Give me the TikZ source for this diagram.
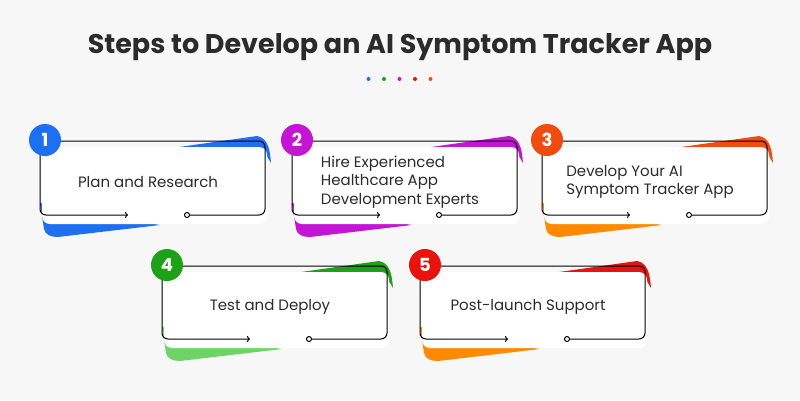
\documentclass[tikz,border=0pt]{standalone}
\usepackage{fontspec}
\setmainfont{Poppins}
\usetikzlibrary{positioning, arrows.meta}
\definecolor{bg}{HTML}{F7F7F7}
\definecolor{ink}{HTML}{2B2B2B}
\definecolor{cBlue}{HTML}{1E6FF1}
\definecolor{cMag}{HTML}{C414D4}
\definecolor{cOrRed}{HTML}{F24B0F}
\definecolor{cOrange}{HTML}{FF8A00}
\definecolor{cGreen}{HTML}{1DA118}
\definecolor{cLGreen}{HTML}{6FD468}
\definecolor{cRed}{HTML}{E8130C}
\tikzset{
  num/.style={circle, minimum size=32pt, inner sep=0pt, font=\bfseries\fontsize{18}{18}\selectfont, text=white},
  steptext/.style={font=\fontsize{15}{18.5}\selectfont, text=ink, align=left},
  outline/.style={line width=1pt, rounded corners=6pt},
  dot/.style={circle, minimum size=4pt, inner sep=0pt}
}
% card: name, left x, top y, height, top colour, bottom colour, number, text
\newcommand{\stepcard}[8]{
  \fill[#5] (#2+118,#3+9) -- (#2+217,#3-5) to[out=-10,in=95] (#2+231,#3+22) -- (#2+225,#3+12) -- cycle;
  \fill[#6] (#2,#3+#4-12) -- (#2+4,#3+#4+14) to[out=-80,in=180] (#2+18,#3+#4+22) -- (#2+120,#3+#4+10) -- cycle;
  \fill[white, rounded corners=8pt] (#2+2,#3+6) rectangle (#2+227,#3+#4+9);
  \coordinate (#1-o) at (#2+147,#3+#4);
  \draw[outline] (#2,#3) -- (#2+225,#3) -- (#2+225,#3+#4) -- ([xshift=2.5pt]#1-o);
  \draw[line width=1pt] (#1-o) circle (2.5);
  \draw[line width=1pt, -{To[length=3pt]}, rounded corners=6pt] (#2,#3+5) -- (#2,#3+#4) -- (#2+88,#3+#4);
  \node[num, fill=#5] (#1-n) at (#2+5,#3-1) {#7};
  \node[steptext] (#1-t) at (#2+108,#3+#4/2+4) {#8};
}
\begin{document}
\begin{tikzpicture}[x=1pt, y=-1pt]
  \fill[bg] (0,0) rectangle (800,400);
  \useasboundingbox (0,0) rectangle (800,400);
  \node[font=\bfseries\fontsize{27}{29}\selectfont, text=ink] (title) at (400,47) {Steps to Develop an AI Symptom Tracker App};
  \foreach \c [count=\i] in {cBlue,cGreen,cMag,cRed,cOrRed}
    \node[dot, fill=\c] (d\i) at (353+15.5*\i,79) {};

  \stepcard{s1}{40}{141}{74}{cBlue}{cBlue}{1}{Plan and Research}
  \stepcard{s2}{292}{141}{74}{cMag}{cMag}{2}{Hire Experienced\\Healthcare App\\Development Experts}
  \stepcard{s3}{542}{141}{74}{cOrRed}{cOrange}{3}{Develop Your AI\\Symptom Tracker App}
  \stepcard{s4}{162}{266}{73}{cGreen}{cLGreen}{4}{Test and Deploy}
  \stepcard{s5}{420}{266}{73}{cRed}{cOrange}{5}{Post-launch Support}
\end{tikzpicture}
\end{document}
